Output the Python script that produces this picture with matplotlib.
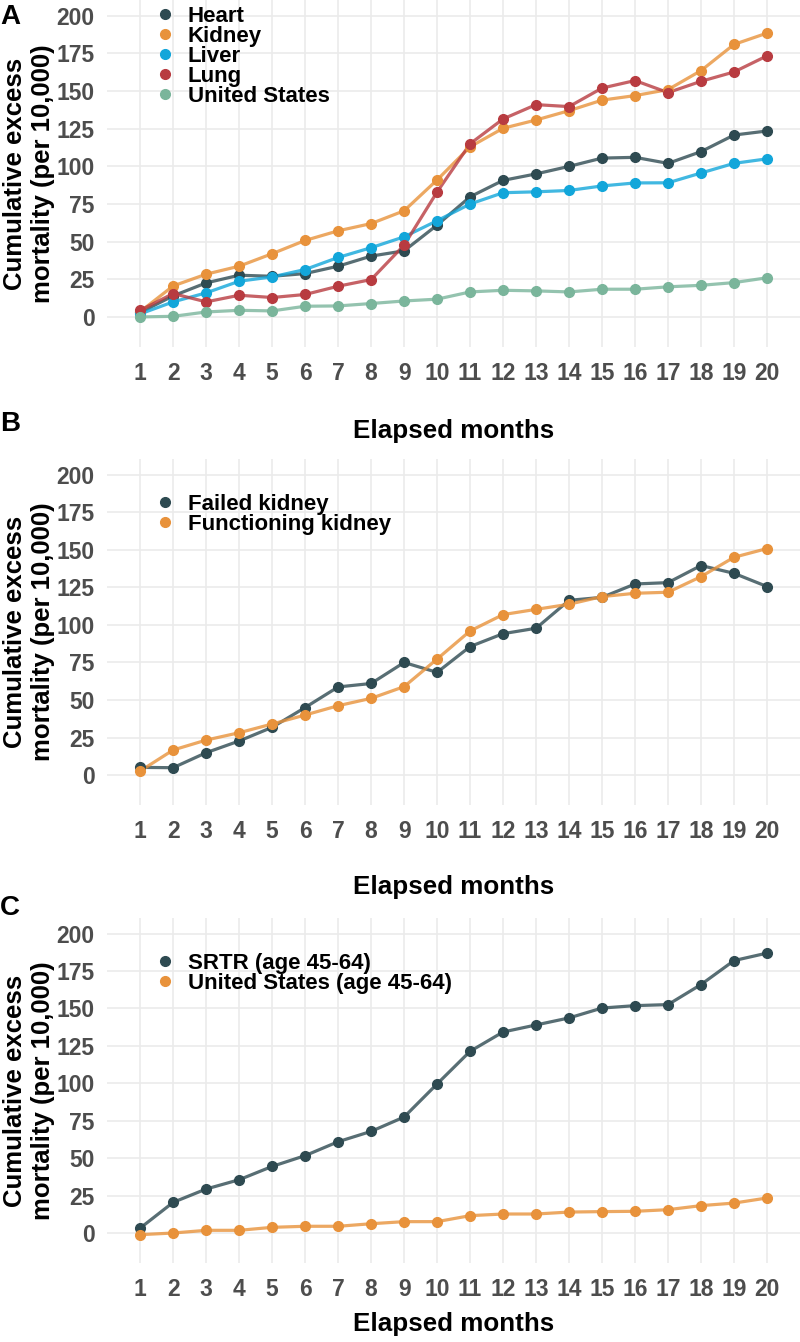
import numpy as np
import matplotlib
matplotlib.use('Agg')
import matplotlib.pyplot as plt
from matplotlib.lines import Line2D

plt.rcParams['font.family'] = ['Liberation Sans', 'DejaVu Sans']

months = list(range(1, 21))

# Panel A - by organ
heart = [3, 14, 22.6, 27.7, 27, 28.8, 33.7, 40.4, 43.9, 61, 79.8, 90.7, 95, 100, 105.5, 106, 102, 109.8, 120.8, 123.5]
kidney = [3.5, 20.6, 28.4, 33.7, 42, 50.8, 57.2, 62, 70.5, 91, 113, 125.3, 130.8, 137, 144, 147, 151, 163.6, 181, 188.5]
liver = [2, 10, 16, 23.7, 26.6, 31.5, 39.5, 46, 53.2, 63.9, 75, 82.5, 83.1, 84, 87, 89, 89.1, 95.6, 102, 105]
lung = [4.4, 15.5, 10, 14.4, 12.9, 14.9, 20.4, 24.8, 47.7, 83, 115, 131.5, 141, 139.7, 152, 157, 149, 156.5, 162.7, 173.4]
us_all = [0, 0.4, 3.3, 4.4, 4, 7.1, 7.3, 8.9, 10.6, 11.8, 16.6, 17.7, 17.3, 16.6, 18.4, 18.4, 20, 21, 22.8, 26]

# Panel B - kidney graft status
failed_kidney = [5.1, 4.9, 14.9, 22.7, 31.8, 45, 58.7, 61, 75, 68.4, 85.6, 94.2, 97.8, 116.4, 118.4, 127.3, 128.2, 139.6, 134.4, 125.6]
functioning_kidney = [2.7, 16.7, 23.3, 28.2, 34, 40, 46.2, 51.1, 58.9, 77.3, 96, 106.9, 110.4, 113.8, 118.9, 121.1, 121.8, 132.2, 145.1, 150.9]

# Panel C - age 45-64
srtr_45_64 = [3.3, 20.5, 29.4, 35.6, 44.5, 51.7, 61, 67.9, 77.5, 99.6, 121.4, 134.3, 139, 143.7, 150.3, 151.9, 152.6, 166, 182, 187]
us_45_64 = [-1.1, 0, 1.8, 1.8, 3.8, 4.5, 4.5, 6.2, 7.6, 7.6, 11.6, 12.7, 12.7, 14, 14.3, 14.5, 15.6, 18.3, 20, 23.4]

DARK = '#2E4A51'
ORANGE = '#E8923B'
BLUE = '#12A6DA'
RED = '#B83B40'
GREEN = '#7AB59B'

# letter, series, axes bottom, axes height, legend top, xlabel pad, letter y
panels = [
    ('A', [('Heart', heart, DARK), ('Kidney', kidney, ORANGE), ('Liver', liver, BLUE),
           ('Lung', lung, RED), ('United States', us_all, GREEN)],
     0.7414, 0.2586, 1.008, 24, 0.9873),
    ('B', [('Failed kidney', failed_kidney, DARK), ('Functioning kidney', functioning_kidney, ORANGE)],
     0.4001, 0.2578, 0.925, 23, 0.684),
    ('C', [('SRTR (age 45-64)', srtr_45_64, DARK), ('United States (age 45-64)', us_45_64, ORANGE)],
     0.0589, 0.2571, 0.925, 8, 0.3234),
]

fig = plt.figure(figsize=(8, 13.42), dpi=100)

for letter, series, bottom, height, leg_top, xpad, letter_y in panels:
    ax = fig.add_axes([0.134, bottom, 0.866, height])
    for name, vals, col in series:
        ax.plot(months, vals, color=col, linewidth=2.3, alpha=0.8, zorder=3)
        ax.plot(months, vals, linestyle='none', marker='o', markersize=7,
                color=col, zorder=4)

    ax.set_xlim(0.0, 21.0)
    ax.set_ylim(-20, 210.5)
    ax.set_xticks(months)
    ax.set_yticks(np.arange(0, 201, 25))
    ax.grid(True, color='#EBEBEB', linewidth=1.2)
    ax.set_axisbelow(True)
    for sp in ax.spines.values():
        sp.set_visible(False)
    ax.tick_params(length=0, labelsize=16.5, labelcolor='#4D4D4D')
    ax.tick_params(axis='x', pad=11)
    ax.tick_params(axis='y', pad=9)
    for lab in ax.get_xticklabels() + ax.get_yticklabels():
        lab.set_fontweight('bold')

    ax.set_xlabel('Elapsed months', fontsize=18.7, fontweight='bold', labelpad=xpad)
    ax.set_ylabel('Cumulative excess\nmortality (per 10,000)', fontsize=18.5,
                  fontweight='bold', linespacing=1.22, labelpad=1)

    handles = [Line2D([], [], linestyle='none', marker='o', markersize=7, color=c)
               for _, _, c in series]
    ax.legend(handles, [s[0] for s in series], loc='upper left',
              bbox_to_anchor=(0.055, leg_top), frameon=False,
              prop={'size': 16, 'weight': 'bold'}, labelspacing=-0.05,
              handletextpad=0.5, handlelength=1.0, borderaxespad=0)

    fig.text(0.0125, letter_y, letter, fontsize=20, fontweight='bold',
             va='center', ha='center')

fig.savefig('out.png', dpi=100)
